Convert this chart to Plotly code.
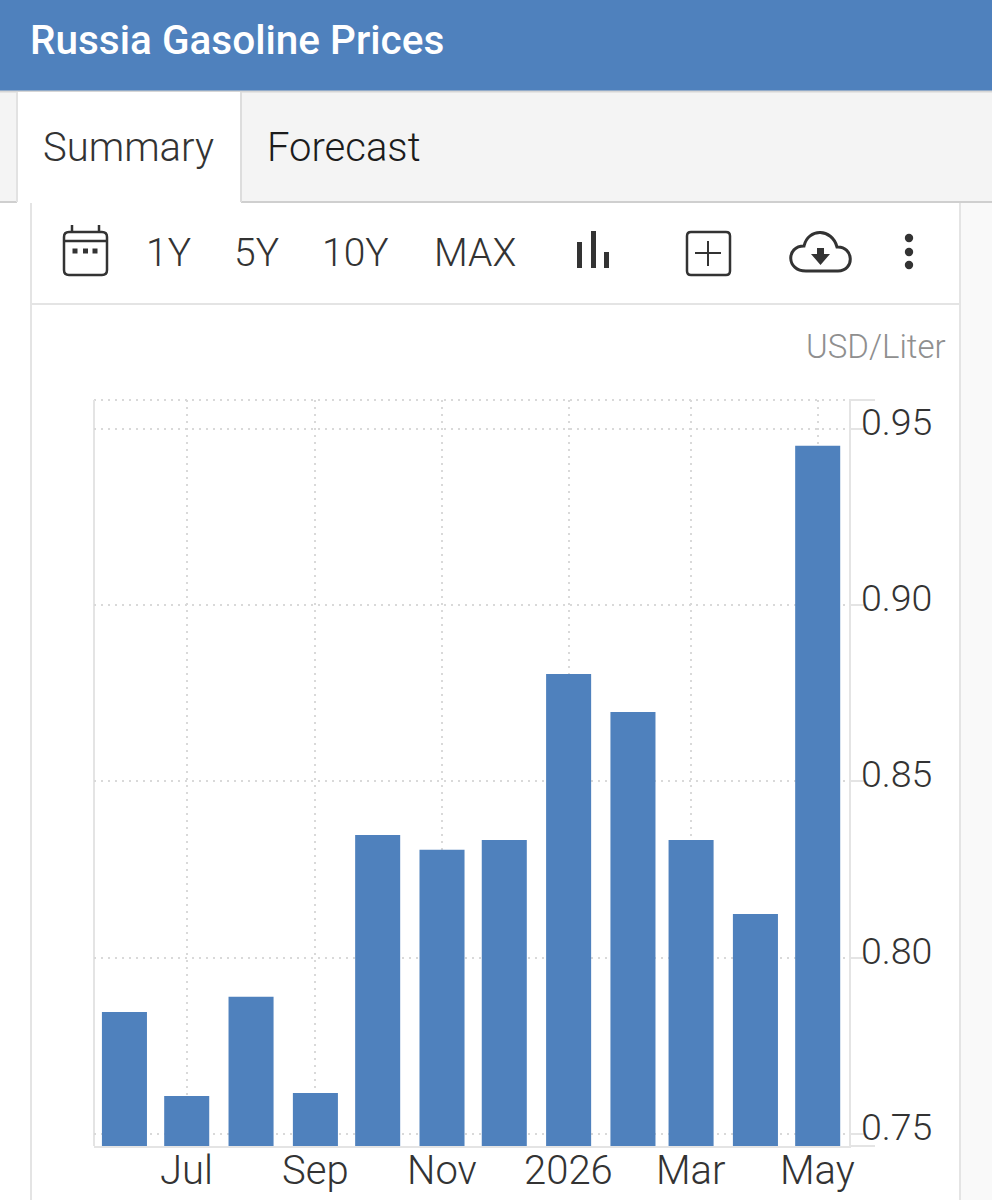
import plotly.graph_objects as go

# monthly prices, USD/Liter
months = ['2025-06-01', '2025-07-01', '2025-08-01', '2025-09-01', '2025-10-01', '2025-11-01',
          '2025-12-01', '2026-01-01', '2026-02-01', '2026-03-01', '2026-04-01', '2026-05-01']
prices = [0.7846, 0.7608, 0.7889, 0.7616, 0.8348, 0.8306, 0.8334, 0.8805, 0.8697, 0.8334, 0.8124, 0.9452]

x_tick_dates = ['2025-07-01', '2025-09-01', '2025-11-01', '2026-01-01', '2026-03-01', '2026-05-01']
x_tick_labels = ['Jul', 'Sep', 'Nov', '2026', 'Mar', 'May']
y_ticks = [0.75, 0.80, 0.85, 0.90, 0.95]
range_buttons = ['1Y', '5Y', '10Y', 'MAX']

W, H = 992, 1200
BLUE = '#4f81bd'
FONT = 'Roboto'
DARK = '#333333'
LINE = '#e4e4e4'
GRID = '#d9d9d9'
GRID_DASH = '2px,5px'
DAY_MS = 86400000


def px(v):
    return v / W


def py(v):
    return 1 - v / H


def path(d):
    # d is a list of ('M', x, y) style steps in page pixels
    out = ''
    for step in d:
        if len(step) == 1:
            out += step[0] + ' '
        else:
            vals = []
            for i in range(1, len(step), 2):
                vals.append(f'{px(step[i]):.5f},{py(step[i + 1]):.5f}')
            out += step[0] + ' '.join(vals) + ' '
    return out.strip()


shapes = []
annotations = []


def rect(x0, y0, x1, y1, fill=None, line=None, lw=0, below=True):
    shapes.append(dict(type='rect', xref='paper', yref='paper', x0=px(x0), x1=px(x1), y0=py(y0), y1=py(y1),
                       fillcolor=fill if fill else 'rgba(0,0,0,0)',
                       line=dict(color=line if line else 'rgba(0,0,0,0)', width=lw),
                       layer='below' if below else 'above'))


def round_rect(x0, y0, x1, y1, r, color, lw):
    shapes.append(dict(type='path', xref='paper', yref='paper', line=dict(color=color, width=lw), path=path([
        ('M', x0 + r, y0), ('L', x1 - r, y0), ('Q', x1, y0, x1, y0 + r), ('L', x1, y1 - r), ('Q', x1, y1, x1 - r, y1),
        ('L', x0 + r, y1), ('Q', x0, y1, x0, y1 - r), ('L', x0, y0 + r), ('Q', x0, y0, x0 + r, y0), ('Z',)])))


def seg(x0, y0, x1, y1, color, lw=2, below=True, dash='solid'):
    shapes.append(dict(type='line', xref='paper', yref='paper', x0=px(x0), x1=px(x1), y0=py(y0), y1=py(y1),
                       line=dict(color=color, width=lw, dash=dash), layer='below' if below else 'above'))


def dot(cx, cy, r, color):
    shapes.append(dict(type='circle', xref='paper', yref='paper', x0=px(cx - r), x1=px(cx + r),
                       y0=py(cy - r), y1=py(cy + r), fillcolor=color, line=dict(width=0)))


def text(s, x, y, size, color=DARK, anchor='center', weight=300):
    annotations.append(dict(text=s, xref='paper', yref='paper', x=px(x), y=py(y), xanchor=anchor, yanchor='middle',
                            showarrow=False, font=dict(family=FONT, size=size, color=color, weight=weight)))


# page chrome
rect(0, 0, W, 91, fill=BLUE)
rect(0, 91, W, 202, fill='#f4f4f4')
seg(0, 91.5, W, 91.5, '#d6d6d6', 2)
seg(0, 202, W, 202, '#cfcfcf', 2)
rect(17, 92, 241, 204, fill='#ffffff')
seg(17, 92, 17, 202, '#e2e2e2', 2)
seg(241, 92, 241, 202, '#dddddd', 2)
rect(961, 203, W, H, fill='#f9f9f9')
seg(31, 203, 31, H, LINE, 2)
seg(960, 203, 960, H, LINE, 2)
seg(31, 304, 960, 304, LINE, 2)

text('Russia Gasoline Prices', 28, 40, 40.5, '#ffffff', 'left', 500)
text('Summary', 41, 148, 40, DARK, 'left', 300)
text('Forecast', 265, 148, 40, '#1c1c1c', 'left', 300)
for label, cx in zip(range_buttons, [168, 256, 355, 475]):
    text(label, cx, 253, 39)
text('USD/Liter', 948, 346, 33, '#8f8f8f', 'right', 300)

# toolbar icons
round_rect(64, 232, 107, 275, 5, DARK, 2.5)
seg(64, 241, 107, 241, DARK, 2.5)
seg(72, 225, 72, 232, DARK, 2.5)
seg(99, 225, 99, 232, DARK, 2.5)
for cx in [75, 85.5, 95]:
    rect(cx - 2.5, 248.5, cx + 2.5, 253.5, fill=DARK)
rect(577, 242, 582, 268, fill=DARK)
rect(591, 231, 596, 268, fill=DARK)
rect(604, 252, 609, 268, fill=DARK)
round_rect(687, 232, 730, 275, 4, DARK, 2.5)
seg(695, 253, 721, 253, DARK, 2)
seg(708, 241, 708, 266, DARK, 2)
shapes.append(dict(type='path', xref='paper', yref='paper', line=dict(color=DARK, width=3), path=path([
    ('M', 806, 271), ('C', 786, 271, 786, 246, 804, 246), ('C', 808, 228, 832, 228, 837, 247),
    ('C', 854, 246, 855, 271, 838, 271), ('Z',)])))
shapes.append(dict(type='path', xref='paper', yref='paper', fillcolor=DARK, line=dict(width=0), path=path([
    ('M', 817, 248), ('L', 824, 248), ('L', 824, 254), ('L', 830, 254), ('L', 820.5, 265), ('L', 811, 254),
    ('L', 817, 254), ('Z',)])))
for cy in [238, 252, 265]:
    dot(909, cy, 4.2, DARK)

# plot frame pieces the axes do not draw
seg(94, 400, 849, 400, GRID, 2, dash=GRID_DASH)
seg(849, 400, 875, 400, LINE, 2)
seg(849, 1146, 875, 1146, LINE, 2)
seg(94, 400, 94, 1146, LINE, 2)

fig = go.Figure()
fig.add_trace(go.Bar(x=months, y=prices, width=21.7 * DAY_MS, marker=dict(color=BLUE, line=dict(width=0)),
                     hovertemplate='%{x}: %{y}<extra></extra>'))

# tick labels sit closer to the axis than plotly puts them, so they go in as annotations
for tick in y_ticks:
    annotations.append(dict(text=f'{tick:.2f}', xref='paper', yref='y', x=px(859), y=tick, xanchor='left',
                            yanchor='middle', yshift=7, showarrow=False,
                            font=dict(family=FONT, size=37.5, color=DARK, weight=300)))
for tick, label in zip(x_tick_dates, x_tick_labels):
    annotations.append(dict(text=label, xref='x', yref='paper', x=tick, y=py(1170), xanchor='center',
                            yanchor='middle', showarrow=False,
                            font=dict(family=FONT, size=40, color=DARK, weight=300)))

fig.update_layout(
    width=W, height=H,
    margin=dict(l=0, r=0, t=0, b=0),
    paper_bgcolor='#ffffff', plot_bgcolor='rgba(0,0,0,0)',
    showlegend=False,
    shapes=shapes,
    annotations=annotations,
    xaxis=dict(type='date', domain=[px(94), px(849)], range=['2025-05-17 08:00', '2026-05-16 02:00'],
               tickmode='array', tickvals=x_tick_dates, showticklabels=False,
               showgrid=True, gridcolor=GRID, griddash=GRID_DASH, gridwidth=2,
               showline=True, linecolor=LINE, linewidth=2, ticks='', zeroline=False),
    yaxis=dict(side='right', domain=[py(1146), py(400)], range=[0.7466, 0.9582],
               tickmode='array', tickvals=y_ticks, showticklabels=False,
               showgrid=True, gridcolor=GRID, griddash=GRID_DASH, gridwidth=2,
               showline=True, linecolor=LINE, linewidth=2, ticks='outside', ticklen=13, tickcolor=LINE, tickwidth=2,
               zeroline=False),
)

fig.write_html('out.html', config=dict(displayModeBar=False),
               post_script="var b=document.body,h=document.documentElement;"
                           "h.style.margin=b.style.margin='0';h.style.overflow=b.style.overflow='hidden';"
                           "h.style.height=b.style.height='1200px';b.style.fontSize='0';b.style.lineHeight='0';")
